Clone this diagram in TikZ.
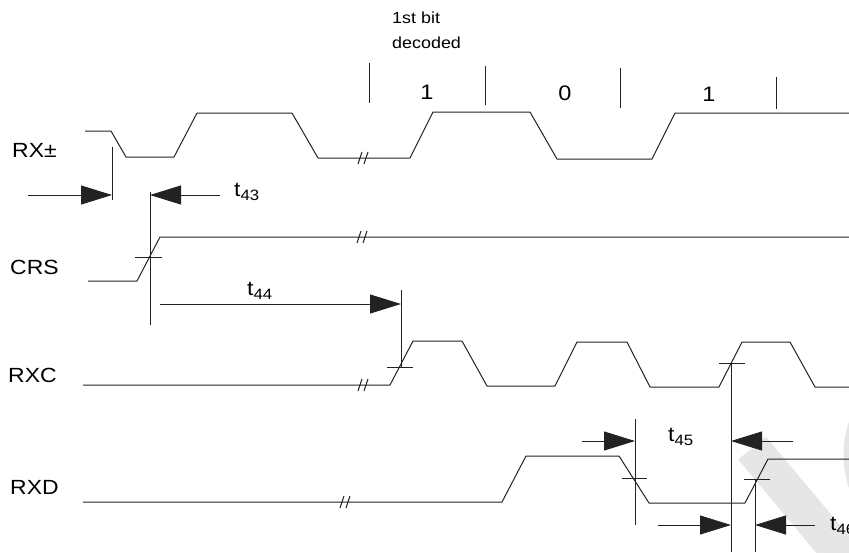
\documentclass[tikz,border=0pt]{standalone}
\usepackage{fontspec}
\setmainfont[FakeStretch=1.12]{Liberation Sans}
\usepackage{tikz}
\usetikzlibrary{arrows.meta}
\definecolor{wave}{HTML}{222222}
\definecolor{wmark}{HTML}{E6E6E6}
\tikzset{
  sig/.style={draw=wave, line width=1pt, line join=round},
  guide/.style={draw=wave, line width=1pt},
  dim/.style={draw=wave, line width=1pt, -{Triangle[length=31pt,width=19pt]}},
  lab/.style={text=black, inner sep=0pt, font=\fontsize{20.5}{24}\selectfont},
  small/.style={text=black, inner sep=0pt, font=\fontsize{16}{18}\selectfont},
  bit/.style={text=black, inner sep=0pt, font=\fontsize{21}{24}\selectfont},
  brk/.pic={\draw[guide] (-5,6)--(-1,-6) (1,6)--(5,-6);},
}
\newcommand{\tsub}[1]{t\raisebox{-0.4ex}{\fontsize{15}{15}\selectfont #1}}

\begin{document}
\begin{tikzpicture}[x=1pt, y=-1pt]
  \useasboundingbox (0,0) rectangle (849,552);
  \clip (0,0) rectangle (849,552);

  % watermark
  \draw[draw=wmark, line width=36pt] (752,448)--(850,565);
  \draw[draw=wmark, line width=13pt] (948,455) circle (98);

  % signal names
  \node[lab, anchor=west] (rxpm) at (12,150) {RX±};
  \node[lab, anchor=west] (crs) at (10,267) {CRS};
  \node[lab, anchor=west] (rxc) at (8,375) {RXC};
  \node[lab, anchor=west] (rxd) at (10,487) {RXD};

  % decoded bits
  \node[small, anchor=west] (first) at (392,18) {1st bit};
  \node[small, anchor=west] (decoded) at (392,43) {decoded};
  \draw[guide] (369,63)--(369,103);
  \draw[guide] (485,66)--(485,105);
  \draw[guide] (620,68)--(620,108);
  \draw[guide] (776,77)--(776,109);
  \node[bit] (bita) at (427,92) {1};
  \node[bit] (bitb) at (565,93) {0};
  \node[bit] (bitc) at (709,94) {1};

  % RX+-
  \draw[sig] (85,131)--(111,131)--(126,157)--(174,157)--(197,113)--(292,113)
    --(318,158)--(410,158)--(433,112)--(530,112)--(557,159)--(652,159)
    --(675,113)--(849,113);
  \pic at (363,158) {brk};

  % CRS
  \draw[sig] (88,281)--(137,281)--(160,237)--(849,237);
  \pic at (362,237) {brk};
  \draw[guide] (135,257)--(162,257);

  % RXC
  \draw[sig] (83,385)--(390,385)--(413,341)--(462,341)--(487,386)--(555,386)
    --(577,342)--(627,342)--(650,387)--(719,387)--(742,342)--(790,342)
    --(815,387)--(849,387);
  \pic at (363,385) {brk};
  \draw[guide] (387,367)--(413,367);
  \draw[guide] (719,363)--(745,363);

  % RXD
  \draw[sig] (83,502)--(502,502)--(526,456)--(619,456)--(649,503)--(745,503)
    --(768,459)--(849,459);
  \pic at (345,502) {brk};
  \draw[guide] (622,478)--(647,478);
  \draw[guide] (744,479)--(770,479);

  % reference lines
  \coordinate (ra) at (112,147);  \coordinate (rb) at (112,200);
  \coordinate (ca) at (150,192);  \coordinate (cb) at (150,325);
  \coordinate (ka) at (401,290);  \coordinate (kb) at (401,368);
  \coordinate (kc) at (731,363);  \coordinate (kd) at (731,552);
  \coordinate (da) at (635,419);  \coordinate (db) at (635,525);
  \coordinate (dc) at (755,479);  \coordinate (dd) at (755,552);
  \draw[guide] (ra)--(rb);
  \draw[guide] (ca)--(cb);
  \draw[guide] (ka)--(kb);
  \draw[guide] (kc)--(kd);
  \draw[guide] (da)--(db);
  \draw[guide] (dc)--(dd);

  % t43
  \coordinate (a1) at (28,195);
  \draw[dim] (a1)--(ra|-a1);
  \coordinate (a2) at (220,195);
  \draw[dim] (a2)--(ca|-a2);
  \node[lab, anchor=base west] (t43) at (234,196) {\tsub{43}};

  % t44
  \coordinate (a3) at (160,304);
  \draw[dim] (a3)--(ka|-a3);
  \node[lab, anchor=base west] (t44) at (247,295) {\tsub{44}};

  % t45
  \coordinate (a4) at (582,441);
  \draw[dim] (a4)--(da|-a4);
  \coordinate (a5) at (793,441);
  \draw[dim] (a5)--(kc|-a5);
  \node[lab, anchor=base west] (t45) at (668,441) {\tsub{45}};

  % t46
  \coordinate (a6) at (658,525);
  \draw[dim] (a6)--(kc|-a6);
  \coordinate (a7) at (815,525);
  \draw[dim] (a7)--(dc|-a7);
  \node[lab, anchor=base west] (t46) at (830,530) {\tsub{46}};
\end{tikzpicture}
\end{document}
